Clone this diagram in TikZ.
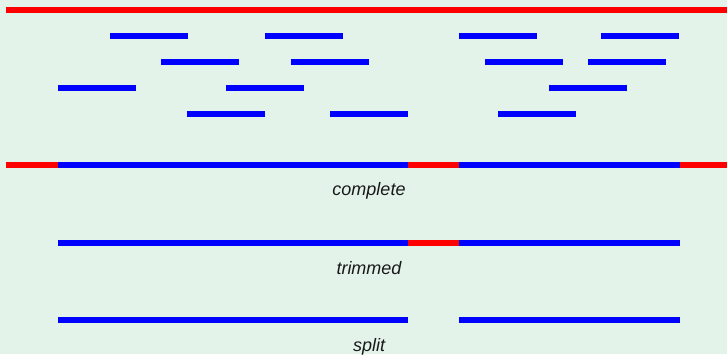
\documentclass[tikz,border=0pt]{standalone}
\usepackage{fontspec}
\setmainfont{Liberation Sans}
\definecolor{mygreen}{RGB}{227,243,234}
\definecolor{myred}{RGB}{255,0,0}
\definecolor{myblue}{RGB}{0,0,255}

\begin{document}
\begin{tikzpicture}[x=1pt, y=-1pt,
        % one unit is one pixel of the original, y grows downwards
        font=\fontsize{18}{20}\selectfont\itshape,
        % styles for the pieces of the plot
        readline/.style={myblue, line width=6pt},
        gapline/.style={myred, line width=6pt},
        caption/.style={anchor=base, text=black!90, inner sep=0pt}
    ]

    \fill[mygreen] (0,0) rectangle (727,354);
    \useasboundingbox (0,0) rectangle (727,354);

    % reference on top
    \draw[gapline] (6,10) -- (727,10);

    % reads, one row at a time
    \foreach \x in {110, 265, 459, 601} {
        \draw[readline] (\x,36) -- ++(78,0);
    }
    \foreach \x in {161, 291, 485, 588} {
        \draw[readline] (\x,62) -- ++(78,0);
    }
    \foreach \x in {58, 226, 549} {
        \draw[readline] (\x,88) -- ++(78,0);
    }
    \foreach \x in {187, 330, 498} {
        \draw[readline] (\x,114) -- ++(78,0);
    }

    % complete
    \draw[gapline] (6,165) -- (58,165);
    \draw[readline] (58,165) -- (408,165);
    \draw[gapline] (408,165) -- (459,165);
    \draw[readline] (459,165) -- (680,165);
    \draw[gapline] (680,165) -- (727,165);
    \node[caption] (complete) at (369,195) {complete};

    % trimmed
    \draw[readline] (58,243) -- (408,243);
    \draw[gapline] (408,243) -- (459,243);
    \draw[readline] (459,243) -- (680,243);
    \node[caption] (trimmed) at (369,274) {trimmed};

    % split
    \draw[readline] (58,320) -- (408,320);
    \draw[readline] (459,320) -- (680,320);
    \node[caption] (split) at (369,351) {split};

\end{tikzpicture}
\end{document}
